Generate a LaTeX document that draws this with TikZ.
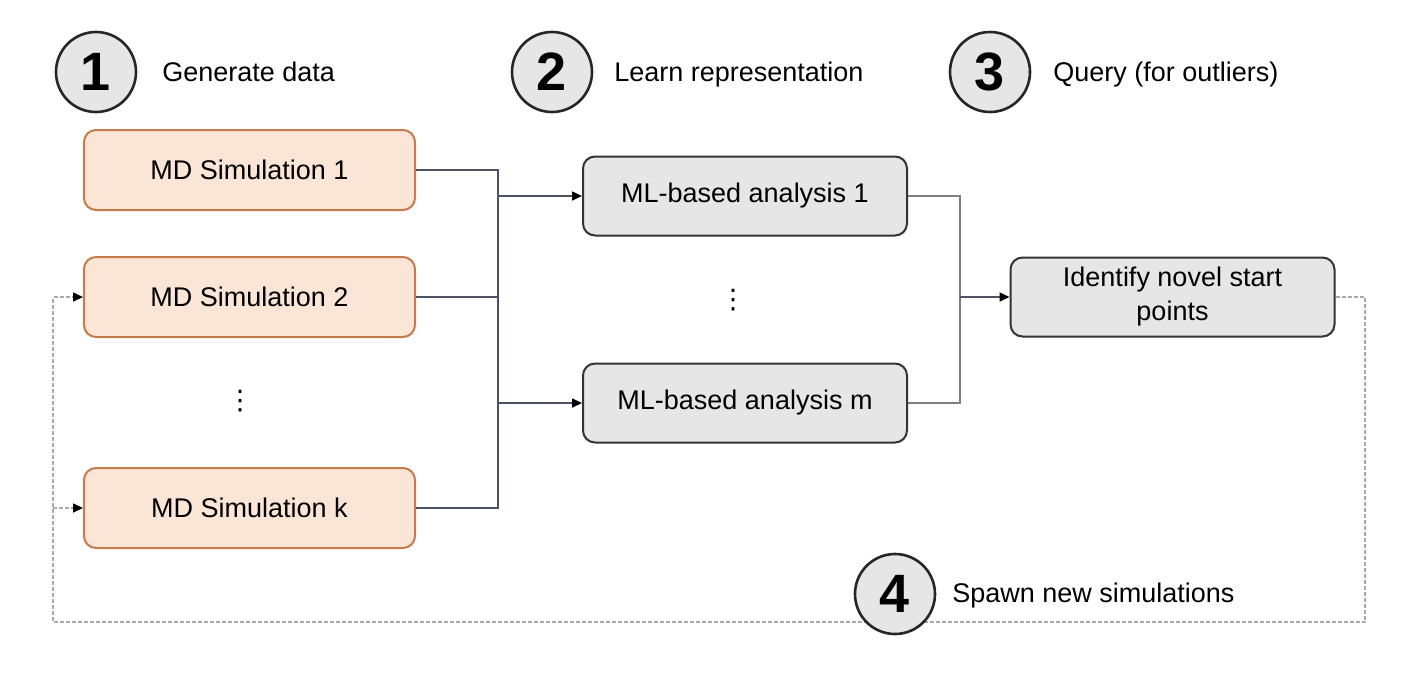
\documentclass[tikz,border=0pt]{standalone}
\usepackage{fontspec}
\setmainfont{Liberation Sans}
\newfontfamily\dotsfont{DejaVu Sans}
\usetikzlibrary{arrows.meta}
\definecolor{simfill}{HTML}{FAE5D7}
\definecolor{simline}{HTML}{C77B4C}
\definecolor{mlfill}{HTML}{E6E6E6}
\definecolor{busline}{HTML}{4B5262}
\definecolor{joinline}{HTML}{7F7F7F}
\definecolor{loopline}{HTML}{A8A8A8}

\begin{document}
\begin{tikzpicture}[x=0.5pt,y=-0.5pt,
  every node/.style={font=\fontsize{13.5}{17}\selectfont},
  simbox/.style={draw=simline,fill=simfill,line width=1pt,rounded corners=6pt,minimum width=165.5pt,minimum height=40pt},
  mlbox/.style={draw=black!80,fill=mlfill,line width=1pt,rounded corners=6pt,minimum width=162pt,minimum height=39.5pt,align=center},
  stepnum/.style={circle,draw=black!85,fill=mlfill,line width=1.3pt,minimum size=40pt,inner sep=0pt,font=\fontsize{27}{27}\selectfont\bfseries},
  caption/.style={anchor=base west,inner sep=0pt},
  vdotsnode/.style={inner sep=0pt,font=\dotsfont\fontsize{13.5}{17}\selectfont},
  tip/.style={-{Triangle[length=5pt,width=4.5pt,color=black]}},
  loopstyle/.style={loopline,line width=0.8pt,dash pattern=on 2pt off 1pt}
]
\useasboundingbox (0,0) rectangle (1408,676);
% step headings
\node[stepnum] (n1) at (96,72) {1};
\node[caption] (t1) at (162,81) {Generate data};
\node[stepnum] (n2) at (552,72) {2};
\node[caption] (t2) at (614,81) {Learn representation};
\node[stepnum] (n3) at (990,72) {3};
\node[caption] (t3) at (1053,81) {Query (for outliers)};
% simulations
\node[simbox] (sim1) at (249.5,170) {MD Simulation 1};
\node[simbox] (sim2) at (249.5,297) {MD Simulation 2};
\node[vdotsnode] (simdots) at (240,401) {⋮};
\node[simbox] (simk) at (249.5,508) {MD Simulation k};
% analyses
\node[mlbox] (ml1) at (745,196) {ML-based analysis 1};
\node[vdotsnode] (mldots) at (733,300) {⋮};
\node[mlbox] (mlm) at (745,403) {ML-based analysis m};
\node[mlbox] (novel) at (1172.5,297) {Identify novel start\\points};
% connectors
\coordinate (busx) at (498,0);
\coordinate (joinx) at (960,0);
\draw[busline,line width=0.8pt] (sim1.east) -| (busx |- simk.east) -- (simk.east);
\draw[busline,line width=0.6pt] (sim2.east) -- (sim2.east -| busx);
\draw[busline,line width=0.8pt,tip] (ml1.west -| busx) -- (ml1.west);
\draw[busline,line width=0.8pt,tip] (mlm.west -| busx) -- (mlm.west);
\draw[joinline,line width=0.7pt] (ml1.east) -| (joinx |- mlm.east) -- (mlm.east);
\draw[busline,line width=0.8pt,tip] (joinx |- novel.west) -- (novel.west);
% feedback loop
\coordinate (loopr) at (1365,622);
\coordinate (loopl) at (53,622);
\draw[loopstyle,tip] (novel.east) -| (loopr) -- (loopl) |- (sim2.west);
\draw[loopstyle,tip] (loopl |- simk.west) -- (simk.west);
\node[stepnum] (n4) at (895,594) {4};
\node[caption] (t4) at (952,602) {Spawn new simulations};
\end{tikzpicture}
\end{document}
